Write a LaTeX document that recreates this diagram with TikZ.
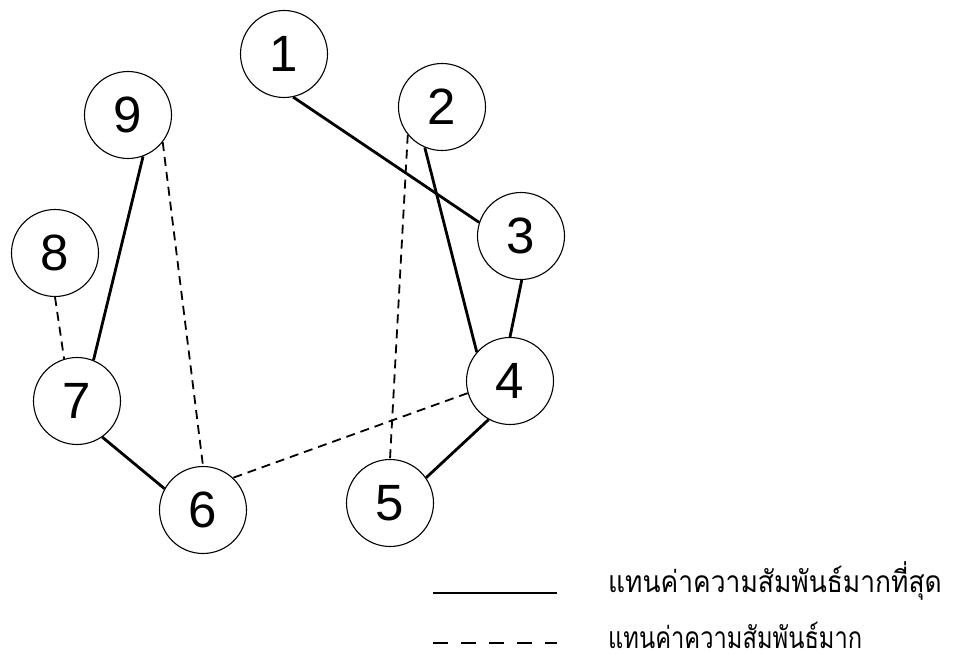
\documentclass[tikz,border=0pt]{standalone}
\usepackage{fontspec}
\setmainfont{Liberation Sans}
\newfontfamily\thaifont[Script=Thai,FakeStretch=0.79]{Loma}
\newfontfamily\thaifontw[Script=Thai,FakeStretch=0.88]{Loma}
\begin{document}
\begin{tikzpicture}[x=1pt,y=-1pt,
  vtx/.style={circle,draw,line width=1.1pt,minimum size=87pt,inner sep=0pt,font=\fontsize{51}{51}\selectfont},
  strong/.style={line width=2.8pt},
  weak/.style={line width=1.8pt,dash pattern=on 9pt off 6pt},
  legweak/.style={line width=2.6pt,dash pattern=on 15pt off 13pt},
  lbl/.style={anchor=base west,inner sep=0pt,text depth=0pt,font=\fontsize{30}{30}\selectfont}]
\useasboundingbox (0,0) rectangle (959,655);
\node[vtx] (n1) at (284,54) {1};
\node[vtx] (n2) at (442,107) {2};
\node[vtx] (n3) at (521,236) {3};
\node[vtx] (n4) at (510,381) {4};
\node[vtx] (n5) at (390,503) {5};
\node[vtx] (n6) at (203,510) {6};
\node[vtx] (n7) at (77,401) {7};
\node[vtx] (n8) at (55,253) {8};
\node[vtx] (n9) at (128,115) {9};
% strongest relations
\draw[strong] (n1.-78) -- (n3.162);
\draw[strong] (n2.-113) -- (n4.139);
\draw[strong] (n3.-89) -- (n4.90);
\draw[strong] (n4.-119) -- (n5.35);
\draw[strong] (n9.-70) -- (n7.68);
\draw[strong] (n7.-55) -- (n6.151);
% strong relations
\draw[weak] (n2.-141) -- (n5.90);
\draw[weak] (n4.196) -- (n6.47);
\draw[weak] (n9.-38) -- (n6.90);
\draw[weak] (n8.-90) -- (n7.107);
% legend
\coordinate (ls1) at (433,593);
\coordinate (le1) at (557,593);
\coordinate (ls2) at (433,643);
\coordinate (le2) at (557,643);
\draw[strong] (ls1) -- (le1);
\draw[legweak] (ls2) -- (le2);
\node[lbl] (t1) at (608,592) {\thaifontw แทนค่าความสัมพันธ์มากที่สุด};
\node[lbl] (t2) at (608,648) {\thaifont แทนค่าความสัมพันธ์มาก};
\end{tikzpicture}
\end{document}
